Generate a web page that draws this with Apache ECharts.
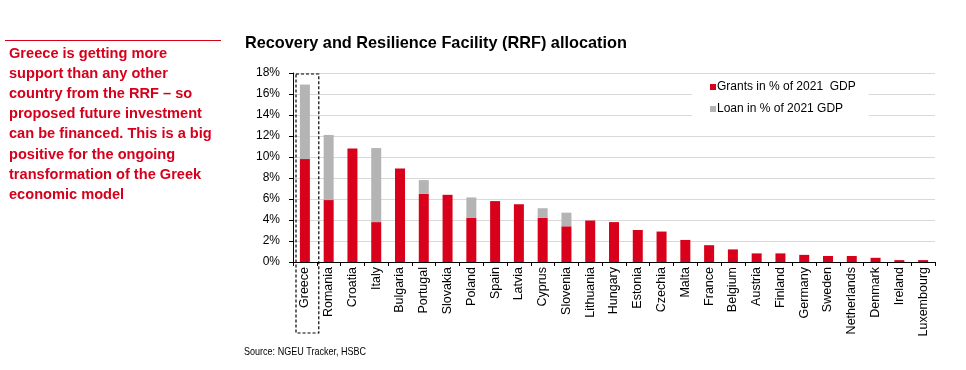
<!DOCTYPE html>
<html><head><meta charset="utf-8">
<script src="https://cdn.jsdelivr.net/npm/echarts@6/dist/echarts.min.js"></script>
<style>
html,body{margin:0;padding:0;background:#fff;}
#c{width:966px;height:370px;}
</style></head>
<body><div id="c"></div>
<script>
var categories = ["Greece","Romania","Croatia","Italy","Bulgaria","Portugal","Slovakia","Poland","Spain","Latvia","Cyprus","Slovenia","Lithuania","Hungary","Estonia","Czechia","Malta","France","Belgium","Austria","Finland","Germany","Sweden","Netherlands","Denmark","Ireland","Luxembourg"];
var grants = [9.8,5.9,10.8,3.8,8.9,6.5,6.4,4.2,5.8,5.5,4.2,3.4,3.95,3.8,3.05,2.9,2.1,1.6,1.2,0.82,0.82,0.68,0.57,0.57,0.4,0.18,0.18];
var loans = [7.1,6.2,0,7.05,0,1.3,0,1.95,0,0,0.92,1.3,0,0,0,0,0,0,0,0,0,0,0,0,0,0,0];
var yTicks = [0,2,4,6,8,10,12,14,16,18];
var RED = '#d9001b', GREY = '#b4b4b4', TXT_RED = '#d6001c';
var FONT = 'Arial, "Liberation Sans", sans-serif';

var chart = echarts.init(document.getElementById('c'), null, {renderer:'canvas'});
var leftText = ["Greece is getting more","support than any other","country from the RRF \u2013 so","proposed future investment","can be financed. This is a big","positive for the ongoing","transformation of the Greek","economic model"].join('\n');

chart.setOption({
  animation:false,
  backgroundColor:'#fff',
  grid:{left:293,right:31,top:73,bottom:108,containLabel:false},
  title:[{
    text:'Recovery and Resilience Facility (RRF) allocation',
    left:240, top:31,
    textStyle:{fontFamily:FONT,fontSize:16.3,fontWeight:'bold',color:'#000'}
  }],
  legend:{
    orient:'vertical', left:692, top:77,
    backgroundColor:'#fff',
    padding:[4,13,4,18],
    itemWidth:6,itemHeight:6,itemGap:10,
    icon:'rect',
    textStyle:{fontFamily:FONT,fontSize:12,color:'#000',padding:[0,0,0,-4]},
    data:['Grants in % of 2021  GDP','Loan in % of 2021 GDP']
  },
  xAxis:{
    type:'category', data:categories,
    axisLine:{lineStyle:{color:'#000',width:1}},
    axisTick:{show:true,length:4,alignWithLabel:false,lineStyle:{color:'#000'}},
    axisLabel:{rotate:90,interval:0,margin:5,fontFamily:FONT,fontSize:12.5,color:'#000'},
    splitLine:{show:false}
  },
  yAxis:{
    type:'value', min:0, max:18, interval:2,
    axisLine:{show:true,lineStyle:{color:'#000',width:1}},
    axisTick:{show:true,length:4,inside:false,lineStyle:{color:'#000'}},
    axisLabel:{margin:13,fontFamily:FONT,fontSize:12,color:'#000',
      formatter:function(v){return yTicks.indexOf(v)>=0 ? v+'%' : '';}},
    splitLine:{show:true,lineStyle:{color:'#d9d9d9',width:1}}
  },
  series:[{
    name:'Grants in % of 2021  GDP', type:'bar', stack:'a', data:grants,
    barWidth:10, itemStyle:{color:RED}, z:3
  },{
    name:'Loan in % of 2021 GDP', type:'bar', stack:'a', data:loans,
    barWidth:10, itemStyle:{color:GREY}, z:3
  }]
});

// Annotation: dashed box around Greece, red rule, commentary and source text
var c0 = chart.convertToPixel({xAxisIndex:0},0);
var c1 = chart.convertToPixel({xAxisIndex:0},1);
var band = c1 - c0;
var topY = chart.convertToPixel({yAxisIndex:0},18);
var zeroY = chart.convertToPixel({yAxisIndex:0},0);
chart.setOption({
  graphic:[{
    type:'rect', z:10,
    shape:{x:c0-band/2+3,y:topY+1,width:band-1,height:zeroY-topY+70},
    style:{fill:'none',stroke:'#000',lineWidth:1.2,lineDash:[3,2]}
  },{
    type:'line', z:10,
    shape:{x1:5,y1:40.5,x2:221,y2:40.5},
    style:{stroke:TXT_RED,lineWidth:1}
  },{
    type:'text', z:10, x:9, y:44,
    style:{text:leftText,fill:TXT_RED,font:'bold 14.6px Arial, "Liberation Sans", sans-serif',lineHeight:20.1}
  },{
    type:'text', z:10, x:244, y:347, scaleX:0.86,
    style:{text:'Source: NGEU Tracker, HSBC',fill:'#000',font:'10.5px Arial, "Liberation Sans", sans-serif'}
  }]
});
</script></body></html>
